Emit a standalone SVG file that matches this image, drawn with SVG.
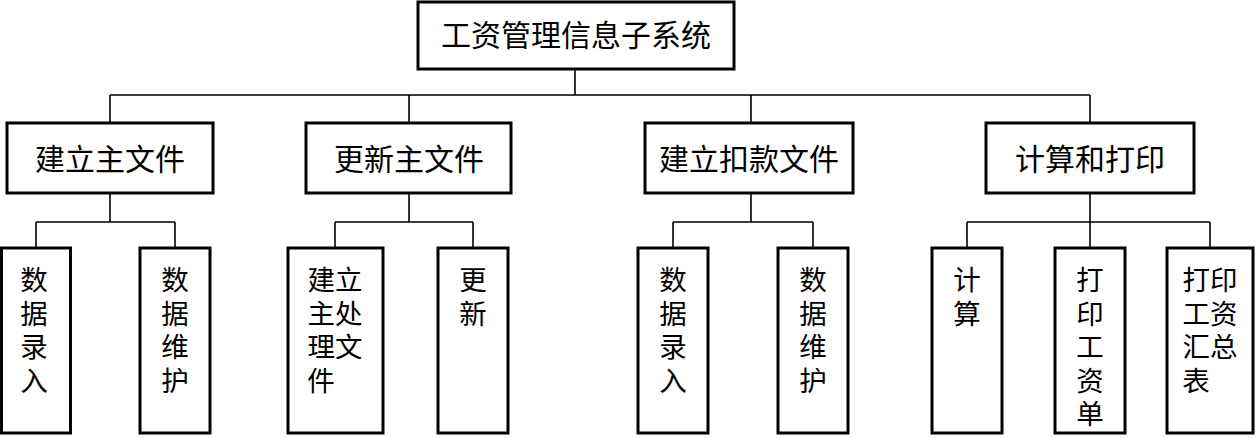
<svg xmlns="http://www.w3.org/2000/svg" width="1257" height="438" viewBox="0 0 1257 438">
<style>
.box{fill:#fff;stroke:#000;stroke-width:3}
.ln{stroke:#000;stroke-width:1.6;fill:none}
text{font-family:"Noto Sans CJK SC","Noto Sans CJK JP",sans-serif;font-size:30px;fill:#000;text-anchor:middle}
text.v{font-size:27.5px}
</style>
<rect width="1257" height="438" fill="#fff"/>
<g id="connectors">
<path class="ln" d="M575,69V95M110,95H1090M110,95V123M409,95V123M751,95V123M1090,95V123"/>
<path class="ln" d="M110,193V222M36,222H175M36,222V248M175,222V248"/>
<path class="ln" d="M409,193V222M335,222H473M335,222V248M473,222V248"/>
<path class="ln" d="M751,193V222M673,222H813M673,222V248M813,222V248"/>
<path class="ln" d="M1090,193V222M967,222H1210M967,222V248M1090,222V248M1210,222V248"/>
</g>
<g id="root"><rect class="box" x="418" y="2" width="316" height="67"/><text x="576" y="46">工资管理信息子系统</text></g>
<g id="n1"><rect class="box" x="7" y="123" width="206" height="70"/><text x="110" y="170">建立主文件</text></g>
<g id="n2"><rect class="box" x="306" y="123" width="205" height="70"/><text x="409" y="170">更新主文件</text></g>
<g id="n3"><rect class="box" x="645" y="123" width="208" height="70"/><text x="749" y="170">建立扣款文件</text></g>
<g id="n4"><rect class="box" x="986" y="123" width="208" height="70"/><text x="1090" y="170">计算和打印</text></g>
<g id="n11"><rect class="box" x="1.5" y="248" width="69" height="185"/><text class="v" x="34"><tspan x="34" y="290">数</tspan><tspan x="34" y="323.5">据</tspan><tspan x="34" y="357">录</tspan><tspan x="34" y="390.5">入</tspan></text></g>
<g id="n12"><rect class="box" x="140" y="248" width="70" height="185"/><text class="v" x="175"><tspan x="175" y="290">数</tspan><tspan x="175" y="323.5">据</tspan><tspan x="175" y="357">维</tspan><tspan x="175" y="390.5">护</tspan></text></g>
<g id="n21"><rect class="box" x="288" y="248" width="95" height="185"/><text class="v" x="335"><tspan x="335" y="290">建立</tspan><tspan x="335" y="323.5">主处</tspan><tspan x="335" y="357">理文</tspan><tspan x="321" y="390.5">件</tspan></text></g>
<g id="n22"><rect class="box" x="438" y="248" width="70" height="185"/><text class="v" x="473"><tspan x="473" y="290">更</tspan><tspan x="473" y="323.5">新</tspan></text></g>
<g id="n31"><rect class="box" x="638" y="248" width="70" height="185"/><text class="v" x="673"><tspan x="673" y="290">数</tspan><tspan x="673" y="323.5">据</tspan><tspan x="673" y="357">录</tspan><tspan x="673" y="390.5">入</tspan></text></g>
<g id="n32"><rect class="box" x="778" y="248" width="70" height="185"/><text class="v" x="813"><tspan x="813" y="290">数</tspan><tspan x="813" y="323.5">据</tspan><tspan x="813" y="357">维</tspan><tspan x="813" y="390.5">护</tspan></text></g>
<g id="n41"><rect class="box" x="932" y="248" width="70" height="185"/><text class="v" x="967"><tspan x="967" y="290">计</tspan><tspan x="967" y="323.5">算</tspan></text></g>
<g id="n42"><rect class="box" x="1055" y="248" width="70" height="185"/><text class="v" x="1090"><tspan x="1090" y="290">打</tspan><tspan x="1090" y="323.5">印</tspan><tspan x="1090" y="357">工</tspan><tspan x="1090" y="390.5">资</tspan><tspan x="1090" y="424">单</tspan></text></g>
<g id="n43"><rect class="box" x="1167" y="248" width="86" height="185"/><text class="v" x="1210"><tspan x="1210" y="290">打印</tspan><tspan x="1210" y="323.5">工资</tspan><tspan x="1210" y="357">汇总</tspan><tspan x="1196" y="390.5">表</tspan></text></g>
</svg>
